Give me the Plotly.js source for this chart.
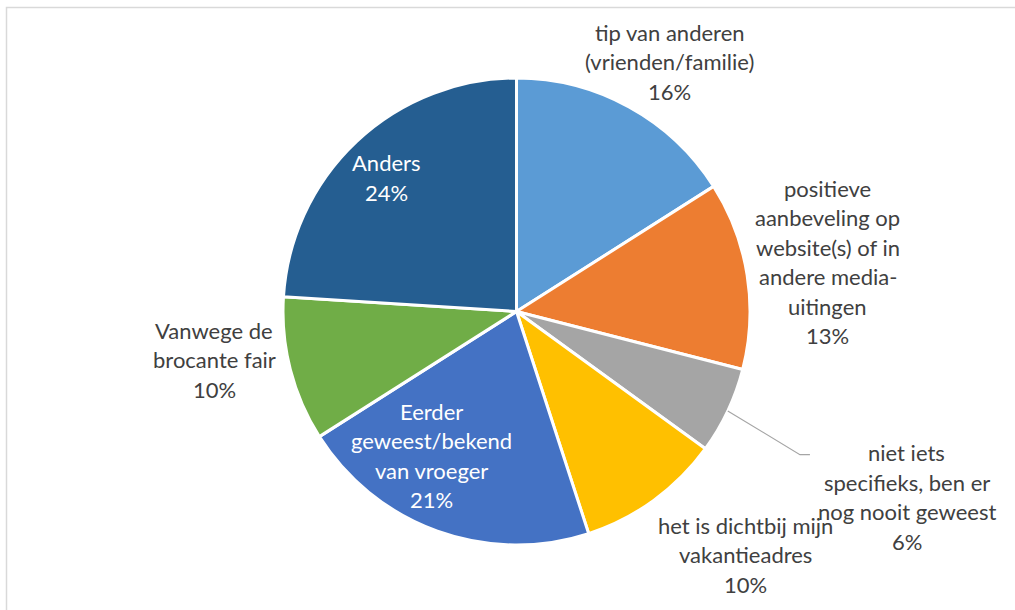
<!DOCTYPE html>
<html>
<head>
<meta charset="utf-8">
<script src="https://cdn.plot.ly/plotly-3.0.1.min.js"></script>
<style>html,body{margin:0;padding:0;background:#fff;}#chart{width:1015px;height:610px;}</style>
</head>
<body>
<div id="chart"></div>
<script>
// ---- data ----
const labels = [
  "tip van anderen (vrienden/familie)",
  "positieve aanbeveling op website(s) of in andere media-uitingen",
  "niet iets specifieks, ben er nog nooit geweest",
  "het is dichtbij mijn vakantieadres",
  "Eerder geweest/bekend van vroeger",
  "Vanwege de brocante fair",
  "Anders"
];
const labelLines = [
  ["tip van anderen", "(vrienden/familie)"],
  ["positieve", "aanbeveling op", "website(s) of in", "andere media-", "uitingen"],
  ["niet iets", "specifieks, ben er", "nog nooit geweest"],
  ["het is dichtbij mijn", "vakantieadres"],
  ["Eerder", "geweest/bekend", "van vroeger"],
  ["Vanwege de", "brocante fair"],
  ["Anders"]
];
const values = [16, 13, 6, 10, 21, 10, 24];
const colors = ["#5B9BD5", "#ED7D31", "#A5A5A5", "#FFC000", "#4472C4", "#70AD47", "#255E91"];

// ---- label layout (style) ----
const labelAngleShift = [2.7, 0, 0.2, -7.2, 10.7, 5.3, -0.9];   // degrees
const labelRadius = [1.255, 1.35, 1.85, 1.43, 0.715, 1.31, 0.80]; // fraction of R
const labelInside = [false, false, false, false, true, false, true];

const W = 1015, H = 610;
const CX = 516.5, CY = 311.5, R = 233.5;
const lineH = 29.5;
const fontFam = "Lato, 'Noto Sans', sans-serif";
const fontSize = 22;

const total = values.reduce((a, b) => a + b, 0);
let cum = 0;
const annotations = [];
const shapes = [];
function px2paper(x, y) { return [x / W, 1 - y / H]; }
function polar(deg, r) {
  const t = deg * Math.PI / 180;
  return [CX + r * Math.sin(t), CY - r * Math.cos(t)];
}
values.forEach((v, i) => {
  const mid = (cum + v / 2) / total * 360;
  cum += v;
  const [lx, ly] = polar(mid + labelAngleShift[i], labelRadius[i] * R);
  const pct = Math.round(v / total * 100) + "%";
  const lines = labelLines[i].concat([pct]);
  const n = lines.length;
  lines.forEach((t, k) => {
    const y = ly + (k - (n - 1) / 2) * lineH;
    const [xp, yp] = px2paper(lx, y);
    annotations.push({
      x: xp, y: yp, xref: "paper", yref: "paper",
      text: t, showarrow: false, xanchor: "center", yanchor: "middle",
      font: { family: fontFam, size: fontSize, color: labelInside[i] ? "#ffffff" : "#404040" }
    });
  });
  if (i === 2) {
    // leader line
    const [ex, ey] = polar(mid, R);
    const [bx, by] = polar(mid + 1.6, 1.36 * R);
    const p = [[ex, ey], [bx, by], [bx + 10, by]].map(q => px2paper(q[0], q[1]));
    shapes.push({
      type: "path", xref: "paper", yref: "paper",
      path: `M ${p[0][0]} ${p[0][1]} L ${p[1][0]} ${p[1][1]} L ${p[2][0]} ${p[2][1]}`,
      line: { color: "#A5A5A5", width: 1.2 }
    });
  }
});

// chart area border
shapes.push({
  type: "rect", xref: "paper", yref: "paper",
  x0: 6.5 / W, x1: 1.02, y0: -0.02, y1: 1 - 7.5 / H,
  line: { color: "#D9D9D9", width: 1.5 }, fillcolor: "rgba(0,0,0,0)"
});

const trace = {
  type: "pie",
  labels: labels,
  values: values,
  sort: false,
  direction: "clockwise",
  rotation: 0,
  textinfo: "none",
  hoverinfo: "label+percent",
  marker: { colors: colors, line: { color: "#ffffff", width: 3 } },
  domain: { x: [(CX - R) / W, (CX + R) / W], y: [1 - (CY + R) / H, 1 - (CY - R) / H] },
  showlegend: false
};

Plotly.newPlot("chart", [trace], {
  width: W, height: H,
  margin: { l: 0, r: 0, t: 0, b: 0 },
  paper_bgcolor: "#ffffff",
  showlegend: false,
  annotations: annotations,
  shapes: shapes
}, { displayModeBar: false });
</script>
</body>
</html>
